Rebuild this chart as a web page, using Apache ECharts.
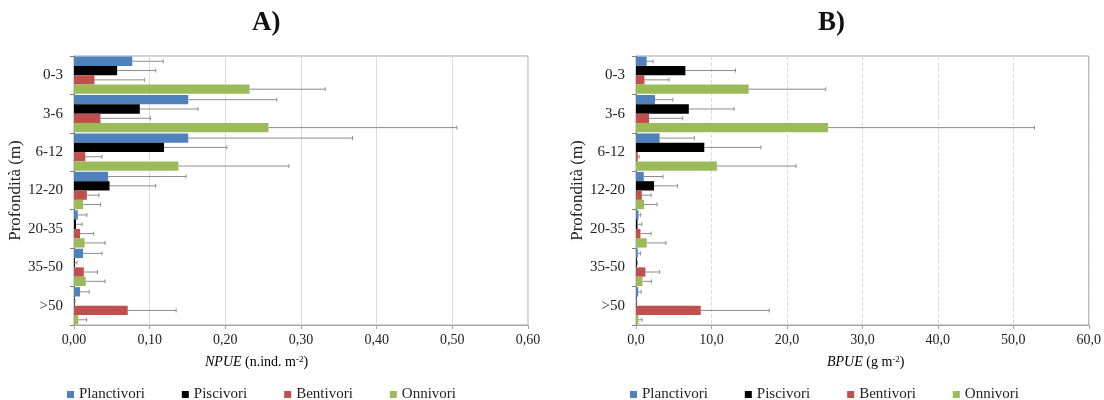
<!DOCTYPE html>
<html><head><meta charset="utf-8">
<script src="https://cdn.jsdelivr.net/npm/echarts@6/dist/echarts.min.js"></script>
<style>html,body{margin:0;padding:0;background:#fff}#c{width:1104px;height:400px}</style>
</head><body><div id="c"></div>
<script>
const categories = ['0-3','3-6','6-12','12-20','20-35','35-50','>50'];
const seriesNames = ['Planctivori','Piscivori','Bentivori','Onnivori'];
const colors = ['#4F81BD','#000000','#C0504D','#9BBB59'];

// A) NPUE (n.ind. m-2): means and upper error (SD)
const npuePlanctivori = [0.077,0.151,0.151,0.045,0.005,0.012,0.008];
const npuePiscivori   = [0.057,0.087,0.119,0.047,0.0026,0.001,0.0005];
const npueBentivori   = [0.027,0.035,0.015,0.017,0.008,0.013,0.071];
const npueOnnivori    = [0.232,0.257,0.138,0.012,0.014,0.0155,0.0057];
const npuePlanctivoriErr = [0.041,0.117,0.217,0.103,0.012,0.025,0.012];
const npuePiscivoriErr   = [0.051,0.077,0.083,0.061,0.008,0.003,0.001];
const npueBentivoriErr   = [0.066,0.066,0.022,0.016,0.018,0.018,0.064];
const npueOnnivoriErr    = [0.100,0.249,0.146,0.023,0.027,0.0255,0.011];

// B) BPUE (g m-2)
const bpuePlanctivori = [1.42,2.52,3.13,1.03,0.33,0.24,0.29];
const bpuePiscivori   = [6.55,7.0,9.05,2.39,0.2,0.1,0.05];
const bpueBentivori   = [1.12,1.73,0.24,0.77,0.59,1.25,8.58];
const bpueOnnivori    = [14.93,25.45,10.72,1.08,1.42,0.85,0.33];
const bpuePlanctivoriErr = [0.84,2.37,4.61,2.55,0.3,0.35,0.39];
const bpuePiscivoriErr   = [6.63,6.0,7.5,3.11,0.57,0.1,0.05];
const bpueBentivoriErr   = [3.25,4.47,0.18,1.23,1.41,1.88,9.07];
const bpueOnnivoriErr    = [10.22,27.35,10.48,1.71,2.55,1.19,0.48];

const npueTicks = [0,0.1,0.2,0.3,0.4,0.5,0.6];
const bpueTicks = [0,10,20,30,40,50,60];

const FONT = 'Liberation Serif';
const CAT_GAP = 0.03;

const npueVals = [npuePlanctivori,npuePiscivori,npueBentivori,npueOnnivori];
const npueErrs = [npuePlanctivoriErr,npuePiscivoriErr,npueBentivoriErr,npueOnnivoriErr];
const bpueVals = [bpuePlanctivori,bpuePiscivori,bpueBentivori,bpueOnnivori];
const bpueErrs = [bpuePlanctivoriErr,bpuePiscivoriErr,bpueBentivoriErr,bpueOnnivoriErr];

function errSeries(gridIdx, vals, errs, si) {
  return {
    type:'custom', xAxisIndex:gridIdx, yAxisIndex:gridIdx, z:5, silent:true,
    encode:{x:0,y:1},
    data: vals[si].map((v,i)=>[v,i,errs[si][i]]),
    renderItem:function(params, api){
      const v = api.value(0), idx = api.value(1), e = api.value(2);
      const band = api.size([0,1])[1];
      const total = band*(1-CAT_GAP);
      const bw = total/4;
      const c0 = api.coord([v, idx]);
      const c1 = api.coord([v+e, idx]);
      const y = c0[1] - total/2 + bw*(si+0.5);
      const st = {stroke:'#8c8c8c', lineWidth:1};
      return {type:'group', children:[
        {type:'line', shape:{x1:c0[0],y1:y,x2:c1[0],y2:y}, style:st},
        {type:'line', shape:{x1:c1[0],y1:y-2,x2:c1[0],y2:y+2}, style:st}
      ]};
    }
  };
}

function barSeries(gridIdx, vals) {
  return seriesNames.map((n,si)=>({
    name:n, type:'bar', xAxisIndex:gridIdx, yAxisIndex:gridIdx,
    data: vals[si], barGap:'0%', barCategoryGap:(CAT_GAP*100)+'%',
    itemStyle:{color:colors[si]}
  }));
}

function xAxis(gridIdx, ticks, dec, dashed) {
  return {
    gridIndex:gridIdx, type:'value', min:ticks[0], max:ticks[ticks.length-1],
    interval:ticks[1]-ticks[0],
    axisLine:{show:true, lineStyle:{color:'#a6a6a6'}},
    axisTick:{show:true, length:4, lineStyle:{color:'#a6a6a6'}},
    axisLabel:{fontFamily:FONT, fontSize:14, color:'#222', margin:8,
      formatter:v=>v.toFixed(dec).replace('.',',')},
    splitLine:{show:true, lineStyle:{color:'#dcdcdc', type: dashed?'dashed':'solid'}}
  };
}
function yAxis(gridIdx, gap) {
  return {
    gridIndex:gridIdx, type:'category', data:categories, inverse:true,
    axisLine:{show:true, lineStyle:{color:'#7f7f7f'}},
    axisTick:{show:true, length:4, lineStyle:{color:'#7f7f7f'}},
    axisLabel:{fontFamily:FONT, fontSize:15, color:'#222', margin:11},
    name:'Profondità (m)', nameLocation:'middle', nameGap:gap, nameRotate:90,
    nameTextStyle:{fontFamily:FONT, fontSize:17, color:'#222'}
  };
}

const legendBase = {
  data:seriesNames, icon:'rect', itemWidth:7, itemHeight:7, itemGap:37,
  textStyle:{fontFamily:FONT, fontSize:15, color:'#222'}, top:382
};

const rich = {
  i:{fontFamily:FONT, fontSize:14, fontStyle:'italic', color:'#222'},
  n:{fontFamily:FONT, fontSize:14, color:'#222'},
  s:{fontFamily:FONT, fontSize:9, color:'#222', verticalAlign:'top', padding:[0,0,0,0]}
};

const chart = echarts.init(document.getElementById('c'));
chart.setOption({
  animation:false,
  backgroundColor:'#fff',
  grid:[
    {left:74, right:576, top:56, bottom:75, show:true, borderColor:'#a6a6a6', borderWidth:1},
    {left:636, right:12, top:56, bottom:75, show:true, borderColor:'#a6a6a6', borderWidth:1}
  ],
  xAxis:[xAxis(0,npueTicks,2,false), xAxis(1,bpueTicks,1,true)],
  yAxis:[yAxis(0,49), yAxis(1,47)],
  legend:[Object.assign({left:62}, legendBase), Object.assign({left:625}, legendBase)],
  graphic:[
    {type:'text', left:252, top:10, style:{text:'A)', font:'bold 27px "Liberation Serif"', fill:'#111'}},
    {type:'text', left:818, top:10, style:{text:'B)', font:'bold 27px "Liberation Serif"', fill:'#111'}},
    {type:'text', left:205, top:355, style:{text:'{i|NPUE}{n| (n.ind. m}{s|-2}{n|)}', rich:rich}},
    {type:'text', left:827, top:355, style:{text:'{i|BPUE}{n| (g m}{s|-2}{n|)}', rich:rich}}
  ],
  series:[].concat(
    barSeries(0,npueVals), barSeries(1,bpueVals),
    [0,1,2,3].map(si=>errSeries(0,npueVals,npueErrs,si)),
    [0,1,2,3].map(si=>errSeries(1,bpueVals,bpueErrs,si))
  )
});
</script></body></html>
